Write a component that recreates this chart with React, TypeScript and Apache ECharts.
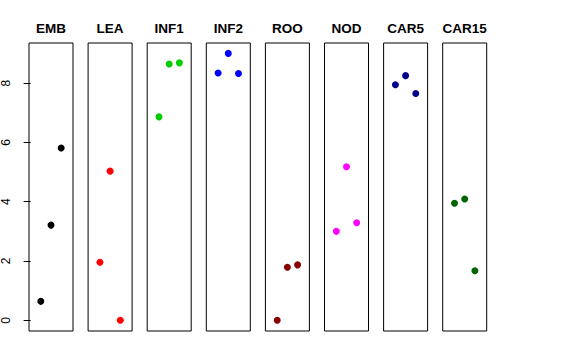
import React, { useEffect, useRef } from "react";
import * as echarts from "echarts";

const panels = ["EMB", "LEA", "INF1", "INF2", "ROO", "NOD", "CAR5", "CAR15"];
const xPositions = [1, 2, 3];
const EMB = [0.64, 3.21, 5.81];
const LEA = [1.96, 5.03, 0.0];
const INF1 = [6.86, 8.64, 8.68];
const INF2 = [8.34, 9.0, 8.32];
const ROO = [0.0, 1.79, 1.87];
const NOD = [3.0, 5.18, 3.29];
const CAR5 = [7.94, 8.25, 7.65];
const CAR15 = [3.95, 4.09, 1.67];
const panelValues = [EMB, LEA, INF1, INF2, ROO, NOD, CAR5, CAR15];
const yTicks = [0, 2, 4, 6, 8];
const colors = ["#000000", "#FF0000", "#00CD00", "#0000FF", "#8B0000", "#FF00FF", "#00008B", "#006400"];

export default function App() {
  const ref = useRef<HTMLDivElement>(null);
  useEffect(() => {
    if (!ref.current) return;
    const chart = echarts.init(ref.current, null, { renderer: "svg" });
    const left0 = 29;
    const step = 59.1;
    const w = 44;
    const top = 43;
    const h = 288;
    const grids = panels.map((_, i) => ({
      left: left0 + i * step,
      top,
      width: w,
      height: h,
      show: true,
      borderColor: "#000",
      borderWidth: 1,
      backgroundColor: "transparent",
    }));
    const xAxes = panels.map((_, i) => ({
      type: "value",
      gridIndex: i,
      min: -0.16,
      max: 4.16,
      show: false,
    }));
    const yAxes = panels.map((_, i) => ({
      type: "value",
      gridIndex: i,
      min: -0.36,
      max: 9.35,
      show: i === 0,
      splitLine: { show: false },
      axisLine: { show: false },
      axisTick: {
        show: i === 0,
        length: 7,
        inside: false,
        customValues: yTicks,
        lineStyle: { color: "#000", width: 1 },
      },
      axisLabel: {
        show: i === 0,
        customValues: yTicks,
        rotate: 90,
        margin: 17,
        fontSize: 12,
        color: "#000",
        fontFamily: "Liberation Sans, Arial, sans-serif",
      },
    }));
    const series = panels.map((_, i) => ({
      type: "scatter",
      xAxisIndex: i,
      yAxisIndex: i,
      symbol: "circle",
      symbolSize: 7,
      itemStyle: { color: colors[i], opacity: 1 },
      data: xPositions.map((x, j) => [x, panelValues[i][j]]),
    }));
    const titleTexts = panels.map((name, i) => ({
      type: "text",
      x: left0 + i * step + w / 2,
      y: 28.5,
      style: {
        text: name,
        textAlign: "center",
        textVerticalAlign: "middle",
        fontSize: 13.5,
        fontWeight: "bold",
        fill: "#000",
        fontFamily: "Liberation Sans, Arial, sans-serif",
      },
    }));
    chart.setOption({
      animation: false,
      backgroundColor: "#fff",
      graphic: titleTexts,
      grid: grids,
      xAxis: xAxes,
      yAxis: yAxes,
      series,
    });
    return () => chart.dispose();
  }, []);
  return <div ref={ref} style={{ width: 576, height: 360, position: "absolute", left: 0, top: 0 }} />;
}
